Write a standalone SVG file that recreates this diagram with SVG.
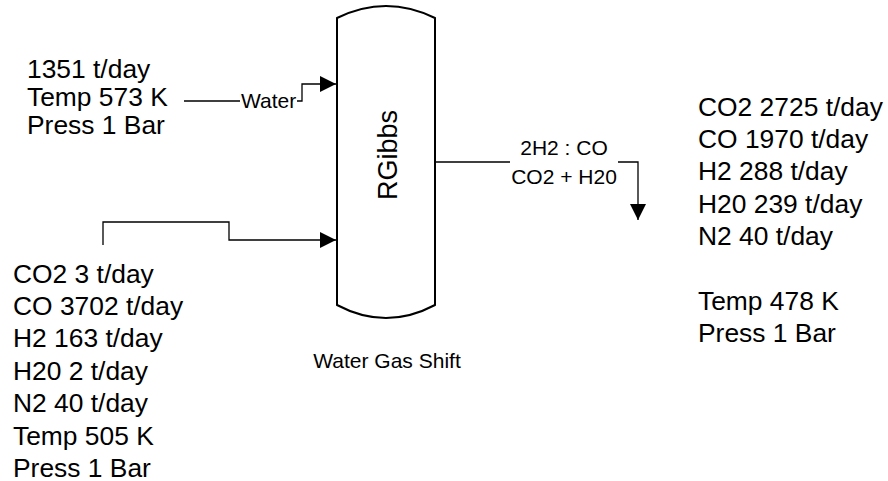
<svg xmlns="http://www.w3.org/2000/svg" width="888" height="481" viewBox="0 0 888 481">
<style>
text{font-family:"Liberation Sans",Arial,sans-serif;fill:#000}
.big{font-size:26.4px}
.sm{font-size:21px}
.ln{fill:none;stroke:#000;stroke-width:1.3}
.vs{fill:#fff;stroke:#000;stroke-width:2}
</style>
<defs>
<marker id="ah" viewBox="0 0 10 10" refX="10" refY="5" markerWidth="22" markerHeight="16" markerUnits="userSpaceOnUse" orient="auto">
<path d="M0,0 L10,5 L0,10 Z" fill="#000"/>
</marker>
</defs>
<g id="connectors">
<path class="ln" d="M184,101 H240 M297,101 H302 V84 H336" marker-end="url(#ah)"/>
<path class="ln" d="M103,245 V222 H229 V240 H336" marker-end="url(#ah)"/>
<path class="ln" d="M436,162 H510 M618,162 H638 V220" marker-end="url(#ah)"/>
<text class="sm" x="241" y="108">Water</text>
<text class="sm" x="564" y="155" text-anchor="middle">2H2 : CO</text>
<text class="sm" x="564" y="184" text-anchor="middle">CO2 + H20</text>
</g>
<g id="rgibbs">
<path class="vs" d="M337,18 Q386,-6 435,18 V305 Q386,331 337,305 Z"/>
<text transform="translate(397,155) rotate(-90)" text-anchor="middle" font-size="27">RGibbs</text>
<text class="sm" x="387" y="368" text-anchor="middle">Water Gas Shift</text>
</g>
<g id="water-feed">
<text class="big" x="27" y="78">1351 t/day</text>
<text class="big" x="27" y="106">Temp 573 K</text>
<text class="big" x="27" y="134">Press 1 Bar</text>
</g>
<g id="gas-feed">
<text class="big" x="13" y="283">CO2 3 t/day</text>
<text class="big" x="13" y="315">CO 3702 t/day</text>
<text class="big" x="13" y="347">H2 163 t/day</text>
<text class="big" x="13" y="380">H20 2 t/day</text>
<text class="big" x="13" y="412">N2 40 t/day</text>
<text class="big" x="13" y="445">Temp 505 K</text>
<text class="big" x="13" y="477">Press 1 Bar</text>
</g>
<g id="product">
<text class="big" x="698" y="116">CO2 2725 t/day</text>
<text class="big" x="698" y="148">CO 1970 t/day</text>
<text class="big" x="698" y="180">H2 288 t/day</text>
<text class="big" x="698" y="213">H20 239 t/day</text>
<text class="big" x="698" y="245">N2 40 t/day</text>
<text class="big" x="698" y="310">Temp 478 K</text>
<text class="big" x="698" y="342">Press 1 Bar</text>
</g>
</svg>
